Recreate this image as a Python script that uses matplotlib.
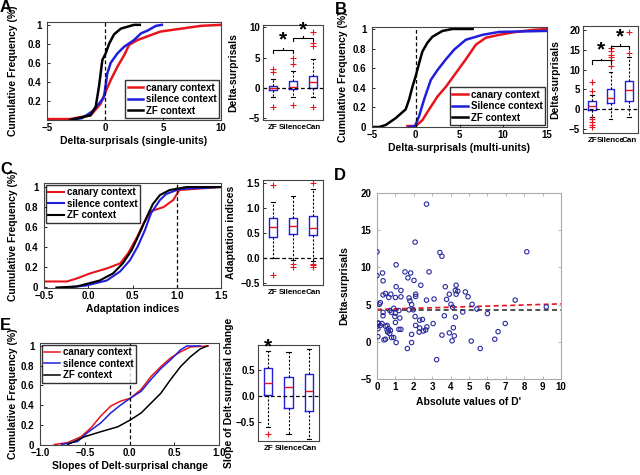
import numpy as np
import matplotlib
matplotlib.use("Agg")
import matplotlib.pyplot as plt

plt.rcParams['font.family'] = ['Liberation Sans', 'DejaVu Sans']
plt.rcParams['font.weight'] = 'bold'
plt.rcParams['axes.labelweight'] = 'bold'
plt.rcParams['font.size'] = 7

RED, BLUE, BLACK = '#e8141c', '#1f1fdc', '#000000'
groups = ['ZF', 'Silence', 'Can']

# ---- A: delta-surprisals, single units (CDF) ----
a_black_x = [-3.0, -1.24, -0.8, -0.52, -0.23, 0.06, 0.35, 0.78, 1.36, 2.5, 3.0]
a_black_y = [0.0, 0.05, 0.14, 0.35, 0.63, 0.70, 0.80, 0.90, 0.96, 1.0, 1.0]
a_blue_x = [-3.0, -1.97, -1.1, -0.52, -0.09, 0.2, 0.49, 1.07, 1.65, 2.5, 3.1, 3.67, 4.4, 4.9]
a_blue_y = [0.0, 0.02, 0.09, 0.17, 0.24, 0.49, 0.60, 0.70, 0.77, 0.84, 0.91, 0.94, 0.99, 1.0]
a_red_x = [-5.0, -3.0, -1.24, -0.38, 0.06, 0.49, 1.07, 1.65, 2.08, 2.8, 3.67, 4.8, 6.56, 8.3, 10.0]
a_red_y = [0.01, 0.01, 0.05, 0.17, 0.30, 0.42, 0.56, 0.68, 0.79, 0.84, 0.88, 0.93, 0.96, 0.99, 1.0]

# box stats: whislo, q1, med, q3, whishi, fliers
a_box = [(-1.5, -0.4, -0.05, 0.4, 1.4, [2.6, 3.1, -3.1]),
         (-1.5, -0.15, 0.2, 1.1, 2.75, [4.0, 5.0, -2.85]),
         (-1.5, 0.0, 0.95, 1.9, 4.8, [7.0, 7.4, 9.3, -3.2])]

# ---- B: delta-surprisals, multi units ----
b_black_x = [-5.0, -4.2, -3.44, -2.3, -1.15, -0.76, -0.38, 0.0, 0.38, 0.76, 1.34, 1.9, 3.05, 4.2, 6.5]
b_black_y = [0.0, 0.0, 0.02, 0.09, 0.18, 0.28, 0.41, 0.52, 0.65, 0.77, 0.86, 0.92, 0.98, 1.0, 1.0]
b_blue_x = [-0.76, -0.08, 0.38, 0.95, 1.72, 2.48, 3.44, 4.4, 5.72, 7.63, 9.54, 15.0]
b_blue_y = [0.0, 0.01, 0.11, 0.28, 0.48, 0.58, 0.69, 0.79, 0.89, 0.94, 0.97, 0.98]
b_red_x = [-0.95, 0.0, 0.76, 1.53, 2.48, 3.44, 4.58, 5.72, 6.87, 8.0, 9.54, 11.45, 13.36, 15.0]
b_red_y = [0.01, 0.01, 0.07, 0.18, 0.31, 0.41, 0.55, 0.69, 0.84, 0.91, 0.94, 0.97, 0.99, 1.0]

b_box = [(-1.9, -0.2, 0.9, 2.0, 3.5, [4.6, 6.9, -2.5, -3.3, -3.9, -4.6]),
         (-2.5, 1.6, 2.9, 5.0, 9.3, [11.0, 12.5, 13.2, 13.8, 14.7, 15.5]),
         (-1.9, 2.2, 4.8, 7.1, 13.1, [14.2, 19.5])]

# ---- C: adaptation indices ----
c_black_x = [-0.36, -0.13, 0.13, 0.28, 0.39, 0.49, 0.58, 0.66, 0.73, 0.81, 0.92, 1.11, 1.49]
c_black_y = [0.0, 0.01, 0.07, 0.14, 0.24, 0.37, 0.54, 0.70, 0.83, 0.92, 0.97, 1.0, 1.0]
c_blue_x = [-0.24, -0.02, 0.21, 0.36, 0.47, 0.56, 0.64, 0.71, 0.81, 0.88, 1.03, 1.26, 1.5]
c_blue_y = [0.0, 0.02, 0.07, 0.16, 0.27, 0.41, 0.57, 0.74, 0.87, 0.93, 0.98, 0.99, 1.0]
c_red_x = [-0.5, -0.24, -0.13, 0.02, 0.21, 0.36, 0.45, 0.55, 0.62, 0.71, 0.85, 0.96, 1.03, 1.18, 1.5]
c_red_y = [0.06, 0.06, 0.09, 0.14, 0.19, 0.24, 0.34, 0.50, 0.63, 0.76, 0.80, 0.87, 0.97, 0.98, 1.0]

c_box = [(0.0, 0.42, 0.62, 0.79, 1.12, [1.45, -0.34]),
         (-0.04, 0.47, 0.64, 0.80, 1.24, [-0.13, -0.19]),
         (-0.06, 0.46, 0.60, 0.83, 1.37, [1.5, -0.13, -0.15, -0.19])]

# ---- D: |D'| vs delta-surprisals ----
d_x = [0.0, 0.0, 0.3, 0.33, 1.04, 2.69, 2.07, 3.42, 3.53, 8.14, 1.52, 1.83, 2.83, 1.68, 2.01,
       2.38, 1.04, 1.3, 0.75, 0.46, 0.33, 0.64, 1.0, 1.3, 1.74, 1.79, 1.88, 2.1, 2.1, 2.69,
       3.1, 3.71, 3.93, 3.78, 4.3, 4.26, 4.39, 4.3, 4.8, 4.95, 4.02, 4.11, 5.17, 5.43, 4.66,
       4.26, 3.66, 7.51, 9.2, 6.0, 6.97, 6.58, 6.4, 5.61, 5.12, 4.08, 4.2, 3.93, 4.15, 3.53,
       3.24, 3.05, 1.65, 1.88, 1.88, 2.1, 2.29, 2.32, 2.47, 2.32, 2.07, 2.52, 2.71, 2.65, 1.04,
       0.91, 0.79, 1.19, 1.3, 1.0, 0.97, 1.24, 0.91, 1.0, 0.79, 0.7, 1.74, 1.97, 0.05, 0.0,
       0.05, 0.09, 0.18, 0.27, 0.33, 0.33, 0.38, 0.46, 0.55, 0.64, 0.58, 0.69, 0.55, 0.46, 0.73,
       0.05, 0.13, 0.18, 1.19]
d_y = [12.1, 8.9, 9.25, 8.2, 10.35, 18.5, 13.4, 12.0, 11.5, 12.1, 9.4, 9.25, 9.4, 8.6, 8.25,
       7.6, 7.4, 6.9, 6.4, 6.5, 6.3, 5.96, 5.96, 6.05, 5.9, 5.5, 5.0, 6.4, 6.1, 5.6,
       5.75, 7.4, 6.4, 5.7, 7.6, 6.9, 6.8, 6.4, 6.7, 6.05, 5.04, 4.65, 5.04, 4.4, 4.0,
       3.33, 3.5, 5.6, 4.7, 3.8, 2.46, 1.36, 0.35, -0.9, 0.1, 0.13, 0.8, 1.2, 1.9, 0.9,
       -2.4, 2.45, -0.9, -0.1, 1.0, 2.2, 1.3, 1.85, 3.0, 2.9, 3.4, 1.45, 2.0, 1.6, -0.1,
       0.57, 0.57, 1.67, 1.67, 2.6, 3.4, 3.2, 4.5, 3.85, 3.95, 4.2, 4.3, 4.3, 1.75, 2.1,
       0.7, 2.46, 2.2, 2.46, 3.95, 3.5, 0.26, 0.35, 2.2, 1.75, 1.3, 1.1, 1.58, 2.1, 1.53,
       2.54, 5.04, 5.26, 4.2]
d_mean = 4.3
d_fit = (4.35, 0.075)  # intercept, slope of the red dashed fit

# ---- E: slopes of delta-surprisal change ----
e_red_x = [-0.84, -0.69, -0.54, -0.43, -0.32, -0.21, -0.1, 0.01, 0.13, 0.24, 0.35, 0.46, 0.57, 0.68, 0.88]
e_red_y = [0.0, 0.02, 0.08, 0.17, 0.29, 0.39, 0.44, 0.47, 0.56, 0.69, 0.79, 0.88, 0.94, 0.99, 1.0]
e_blue_x = [-0.76, -0.58, -0.47, -0.32, -0.21, -0.1, 0.01, 0.13, 0.24, 0.35, 0.46, 0.57, 0.64, 0.79]
e_blue_y = [0.0, 0.03, 0.12, 0.22, 0.32, 0.40, 0.47, 0.54, 0.66, 0.77, 0.86, 0.96, 1.0, 1.0]
e_black_x = [-0.69, -0.5, -0.32, -0.13, 0.01, 0.13, 0.24, 0.35, 0.46, 0.57, 0.68, 0.79, 0.87]
e_black_y = [0.0, 0.08, 0.13, 0.18, 0.25, 0.32, 0.42, 0.52, 0.66, 0.79, 0.89, 0.97, 1.0]

e_box = [(-0.59, 0.02, 0.25, 0.53, 0.86, [-0.73]),
         (-0.73, -0.23, 0.16, 0.36, 0.83, []),
         (-0.83, -0.28, 0.09, 0.41, 0.90, [])]


W, H = 640, 475
fig = plt.figure(figsize=(6.4, 4.75), dpi=100)


def px_axes(l, t, r, b):
    ax = fig.add_axes([l / W, 1 - b / H, (r - l) / W, (b - t) / H])
    ax.tick_params(direction='in', length=2.5, width=0.6, labelsize=7, pad=2)
    ax.tick_params(axis='y', pad=4)
    for s in ax.spines.values():
        s.set_color('#444444')
        s.set_linewidth(0.8)
    return ax


def label_x(ax, xpix):
    # place the y label at a given figure pixel column
    l = ax.get_position().x0 * W
    w = ax.get_position().width * W
    ax.yaxis.set_label_coords((xpix - l) / w, 0.5)


def cdf_panel(ax, curves, lw, xlim, ylim, xticks, yticks, ylabels, vline, xlabel, legloc, labels):
    for (x, y, c), lab in zip(curves, labels):
        ax.plot(x, y, color=c, lw=lw, label=lab)
    ax.axvline(vline, color='k', ls='--', lw=0.9, dashes=(3, 2))
    ax.set_xlim(*xlim)
    ax.set_ylim(*ylim)
    ax.set_xticks(xticks)
    ax.set_yticks(yticks)
    ax.set_yticklabels(ylabels)
    ax.set_xlabel(xlabel, fontsize=7.5, labelpad=2)
    ax.set_ylabel('Cumulative Frequency (%)', fontsize=7.5)
    label_x(ax, 18)
    ax.legend(loc=legloc, fontsize=7, frameon=True, fancybox=False, edgecolor='k',
              handlelength=1.6, handletextpad=0.3, borderpad=0.25, labelspacing=0.15,
              borderaxespad=0.2)


def box_panel(ax, stats, ylim, yticks, ylabel, lab_x):
    bs = [dict(whislo=s[0], q1=s[1], med=s[2], q3=s[3], whishi=s[4], fliers=s[5]) for s in stats]
    ax.bxp(bs, positions=[1, 2, 3], widths=0.42, showfliers=True,
           boxprops=dict(color=BLUE, lw=1.0),
           medianprops=dict(color=RED, lw=1.0),
           whiskerprops=dict(color='k', ls='--', lw=0.8, dashes=(2, 1.5)),
           capprops=dict(color='k', lw=0.8),
           flierprops=dict(marker='+', markeredgecolor=RED, markersize=4, markeredgewidth=0.8))
    ax.axhline(0, color='k', ls='--', lw=0.9, dashes=(3, 2))
    ax.set_xlim(0.5, 3.5)
    ax.set_ylim(*ylim)
    ax.set_yticks(yticks)
    ax.set_xticks([1, 2, 3])
    ax.set_xticklabels(groups, fontsize=5.8)
    ax.tick_params(axis='x', length=0, pad=3)
    ax.tick_params(axis='y', pad=2)
    ax.set_ylabel(ylabel, fontsize=7.5)
    label_x(ax, lab_x)


def bracket(ax, x0, x1, y, h, sy):
    ax.plot([x0, x0, x1, x1], [y - h, y, y, y - h], color='k', lw=0.8, clip_on=False)
    ax.plot([(x0 + x1) / 2] * 2, [y, y + h * 0.6], color='k', lw=0.8, clip_on=False)
    ax.text((x0 + x1) / 2, sy, '*', ha='center', va='center', fontsize=15,
            fontweight='bold', clip_on=False)


# ---- Panel A ----
ax = px_axes(47, 22, 221, 120)
cdf_panel(ax, [(a_red_x, a_red_y, RED), (a_blue_x, a_blue_y, BLUE), (a_black_x, a_black_y, BLACK)],
          1.8, (-5, 10), (0, 1.03), [-5, 0, 5, 10], [0.2, 0.4, 0.6, 0.8, 1.0],
          ['0.2', '0.4', '0.6', '0.8', '1'], 0, 'Delta-surprisals (single-units)', 'lower right',
          ['canary context', 'silence context', 'ZF context'])

ax = px_axes(263, 25, 323, 120)
box_panel(ax, a_box, (-5.3, 10.4), [-5, 0, 5, 10], 'Delta-surprisals', 238)
bracket(ax, 1, 2, 6.3, 0.5, 7.9)
bracket(ax, 2, 3, 8.3, 0.5, 9.6)

# ---- Panel B ----
ax = px_axes(372, 27, 547, 127)
cdf_panel(ax, [(b_red_x, b_red_y, RED), (b_blue_x, b_blue_y, BLUE), (b_black_x, b_black_y, BLACK)],
          1.8, (-5, 15), (0, 1.02), [-5, 0, 5, 10, 15], [0, 0.2, 0.4, 0.6, 0.8, 1.0],
          ['0', '0.2', '0.4', '0.6', '0.8', '1'], 0, 'Delta-surprisals (multi-units)', 'lower right',
          ['canary context', 'Silence context', 'ZF context'])
label_x(ax, 348)

ax = px_axes(583, 26, 638, 133)
box_panel(ax, b_box, (-6, 21), [-5, 0, 5, 10, 15, 20], 'Delta-surprisals', 560)
bracket(ax, 1, 2, 12.3, 0.8, 14.9)
bracket(ax, 2, 3, 15.9, 0.8, 18.2)

# ---- Panel C ----
ax = px_axes(44, 183, 221, 288)
cdf_panel(ax, [(c_red_x, c_red_y, RED), (c_blue_x, c_blue_y, BLUE), (c_black_x, c_black_y, BLACK)],
          1.5, (-0.5, 1.5), (-0.005, 1.04), [-0.5, 0, 0.5, 1, 1.5], [0, 0.2, 0.4, 0.6, 0.8, 1.0],
          ['0', '0.2', '0.4', '0.6', '0.8', '1'], 1, 'Adaptation indices', 'upper left',
          ['canary context', 'silence context', 'ZF context'])

ax = px_axes(263, 180, 323, 285)
box_panel(ax, c_box, (-0.54, 1.55), [-0.5, 0, 0.5, 1, 1.5], 'Adaptation indices', 236)

# ---- Panel D ----
ax = px_axes(377, 193, 561, 379)
for s in ax.spines.values():
    s.set_color('#aaaaaa')
ax.scatter(d_x, d_y, s=10, facecolors='none', edgecolors='#2a2aa0', linewidths=0.8, zorder=3)
xx = np.array([0, 10])
ax.plot(xx, [d_mean, d_mean], color='#333333', ls='--', lw=1.2, dashes=(3, 2))
ax.plot(xx, d_fit[0] + d_fit[1] * xx, color=RED, ls='--', lw=1.2, dashes=(3, 2))
ax.set_xlim(0, 10)
ax.set_ylim(-5, 20)
ax.set_xticks(range(0, 11))
ax.set_yticks([-5, 0, 5, 10, 15, 20])
ax.tick_params(top=True, right=True, color='#aaaaaa')
ax.set_xlabel("Absolute values of D'", fontsize=7.5, labelpad=4)
ax.set_ylabel('Delta-surprisals', fontsize=7.5)
label_x(ax, 349)

# ---- Panel E ----
ax = px_axes(40, 343, 219, 445)
cdf_panel(ax, [(e_red_x, e_red_y, RED), (e_blue_x, e_blue_y, BLUE), (e_black_x, e_black_y, BLACK)],
          1.1, (-1, 1), (-0.005, 1.03), [-1, -0.5, 0, 0.5, 1], [0, 0.2, 0.4, 0.6, 0.8, 1.0],
          ['0', '0.2', '0.4', '0.6', '0.8', '1'], 0, 'Slopes of Delt-surprisal change', 'upper left',
          ['canary context', 'silence context', 'ZF context'])

ax = px_axes(258, 345, 319, 441)
box_panel(ax, e_box, (-0.86, 0.97), [-0.5, 0, 0.5], 'Slope of Delt-surprisal change', 234)
ax.text(1, 0.93, '*', ha='center', va='center', fontsize=15, fontweight='bold', clip_on=False)

# ---- Panel letters ----
for lab, x, y in [('A', 6, 7), ('B', 341, 9), ('C', 6, 170), ('D', 340, 175), ('E', 5, 325)]:
    fig.text(x / W, 1 - y / H, lab, fontsize=12, fontweight='bold', ha='center', va='center')

fig.savefig('out.png', dpi=100)
plt.close(fig)
